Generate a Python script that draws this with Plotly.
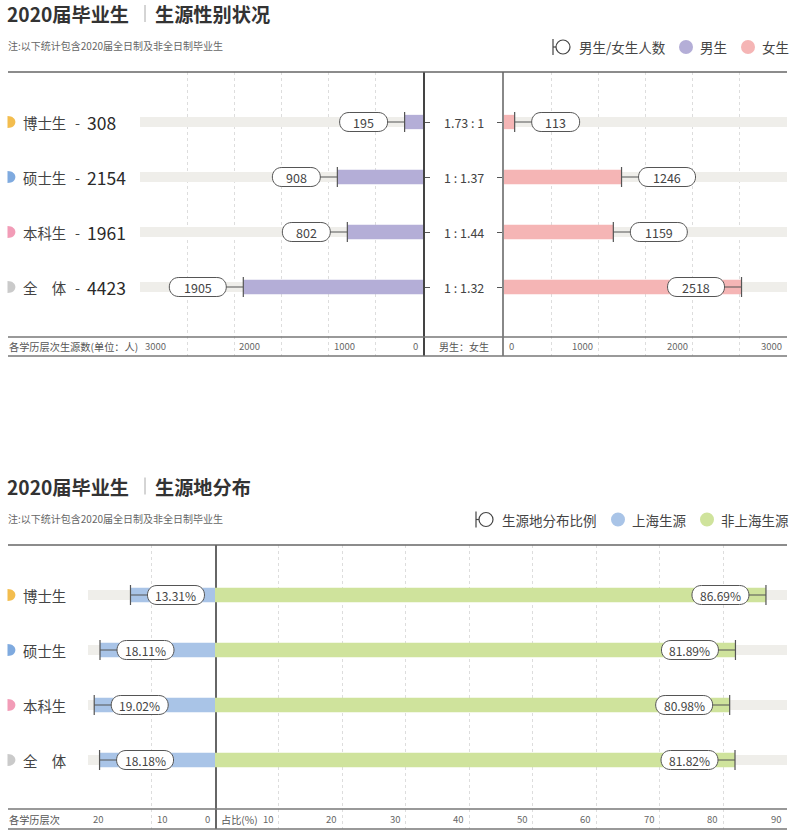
import plotly.graph_objects as go

FIG_W, FIG_H = 794, 831
FONT = "Noto Sans CJK SC"

# ---------------- data ----------------
levels = ["博士生", "硕士生", "本科生", "全　体"]
level_colors = ["#F3BD4E", "#7FAADF", "#F29CB7", "#CACACA"]
male_counts = [195, 908, 802, 1905]
female_counts = [113, 1246, 1159, 2518]
gender_ratio_labels = ["1.73 : 1", "1 : 1.37", "1 : 1.44", "1 : 1.32"]
shanghai_pct = [13.31, 18.11, 19.02, 18.18]
non_shanghai_pct = [86.69, 81.89, 80.98, 81.82]
count_ticks = [0, 1000, 2000, 3000]
pct_left_ticks = [0, 10, 20]
pct_right_ticks = [10, 20, 30, 40, 50, 60, 70, 80, 90]
COUNT_MAX = 3000
PCT_LEFT_MAX = 20
PCT_RIGHT_MAX = 90
totals = [m + f for m, f in zip(male_counts, female_counts)]

# ---------------- style ----------------
MALE_C = "#B4AED7"
FEMALE_C = "#F5B5B5"
SH_C = "#A9C4E7"
NSH_C = "#CFE39C"
TRACK_C = "#EFEEEA"
LINE_C = "#555555"
GRID_C = "#DDDDDD"


def px(x):
    return x / FIG_W


def py(y):
    return 1 - y / FIG_H


STEP = 55
TOP = dict(top=72, row=337, bottom=356, first=122, off=0)
BOT = dict(top=545, row=809, bottom=829, first=595, off=472.5)


def yrange(sec):
    last = sec["first"] + 3 * STEP
    return [3 + (sec["bottom"] - last) / STEP, -(sec["first"] - sec["top"]) / STEP]


fig = go.Figure()

# ---- bars ----
def add_bars(values, track_max, color, xa, ya):
    fig.add_trace(go.Bar(y=levels, x=[track_max] * len(levels), orientation="h",
                         marker=dict(color=TRACK_C, line=dict(width=0)), width=0.18,
                         xaxis=xa, yaxis=ya, hoverinfo="skip"))
    fig.add_trace(go.Bar(y=levels, x=values, orientation="h",
                         marker=dict(color=color, line=dict(width=0)), width=0.26,
                         xaxis=xa, yaxis=ya, hoverinfo="skip"))


add_bars(male_counts, COUNT_MAX, MALE_C, "x", "y")
add_bars(female_counts, COUNT_MAX, FEMALE_C, "x2", "y3")
add_bars(shanghai_pct, PCT_LEFT_MAX, SH_C, "x3", "y2")
add_bars(non_shanghai_pct, PCT_RIGHT_MAX, NSH_C, "x4", "y4")

shapes = []
annotations = []


def value_labels(values, texts, xref, yref, outward, panel_px, axis_max, fsize):
    gap = 17
    r = 9.5
    k = 4.0 / 3.0 * r
    for v, cat, t in zip(values, levels, texts):
        ndig = sum(ch.isdigit() for ch in t)
        w = 21 + 9 * ndig
        bar_px = v / axis_max * panel_px
        d = outward if bar_px + gap + w <= panel_px else -outward
        shapes.append(dict(type="path", xref=xref, yref=yref, xsizemode="pixel", ysizemode="pixel",
                           xanchor=v, yanchor=cat,
                           path=f"M0,-10 L0,10 M0,0 L{d * gap},0",
                           line=dict(color=LINE_C, width=1.2), layer="above"))
        if d > 0:
            x0, x1 = gap, gap + w
        else:
            x0, x1 = -gap - w, -gap
        path = (f"M{x0 + r},{-r} L{x1 - r},{-r} C{x1 - r + k},{-r} {x1 - r + k},{r} {x1 - r},{r} "
                f"L{x0 + r},{r} C{x0 + r - k},{r} {x0 + r - k},{-r} {x0 + r},{-r} Z")
        shapes.append(dict(type="path", xref=xref, yref=yref, xsizemode="pixel", ysizemode="pixel",
                           xanchor=v, yanchor=cat, path=path, fillcolor="white",
                           line=dict(color=LINE_C, width=1), layer="above"))
        annotations.append(dict(x=v, y=cat, xref=xref, yref=yref, xshift=d * (gap + w / 2),
                                text=t, showarrow=False, xanchor="center", yanchor="middle",
                                font=dict(size=fsize, color="#444", family=FONT)))


value_labels(male_counts, [str(v) for v in male_counts], "x", "y", -1, 423 - 140, COUNT_MAX, 12.5)
value_labels(female_counts, [str(v) for v in female_counts], "x2", "y3", 1, 787 - 504, COUNT_MAX, 12.5)
value_labels(shanghai_pct, [f"{v:.2f}%" for v in shanghai_pct], "x3", "y2", -1, 215 - 88, PCT_LEFT_MAX, 12)
value_labels(non_shanghai_pct, [f"{v:.2f}%" for v in non_shanghai_pct], "x4", "y4", 1, 787 - 215, PCT_RIGHT_MAX, 12)

# ratio texts
for cat, t in zip(levels, gender_ratio_labels):
    annotations.append(dict(x=px(463.5), y=cat, xref="paper", yref="y", text=t, showarrow=False,
                            xanchor="center", yanchor="middle",
                            font=dict(size=12.5, color="#444", family=FONT)))

# category labels
def cat_labels(yref, with_totals):
    for i, cat in enumerate(levels):
        shapes.append(dict(type="path", xref="paper", yref=yref, xsizemode="pixel", ysizemode="pixel",
                           xanchor=px(7.5), yanchor=cat, path="M0,-6 C10.5,-6 10.5,6 0,6 Z",
                           fillcolor=level_colors[i], line=dict(width=0), layer="above"))
        annotations.append(dict(x=px(21), y=cat, xref="paper", yref=yref, text=cat, showarrow=False,
                                xanchor="left", yanchor="middle",
                                font=dict(size=14.4, color="#444", family=FONT)))
        if with_totals:
            annotations.append(dict(x=px(72.5), y=cat, xref="paper", yref=yref, text="-", showarrow=False,
                                    xanchor="left", yanchor="middle",
                                    font=dict(size=14.4, color="#444", family=FONT)))
            annotations.append(dict(x=px(85), y=cat, xref="paper", yref=yref, text=str(totals[i]),
                                    showarrow=False, xanchor="left", yanchor="middle",
                                    font=dict(size=17.5, color="#2a2a2a", family=FONT)))


cat_labels("y", True)
cat_labels("y2", False)

# tick labels
def tick_labels(ticks, xref, row_y, left_panel, hide_zero=False):
    for t in ticks:
        if t == 0 and hide_zero:
            continue
        if left_panel:
            anchor, shift = ("right", -3) if t == 0 else ("left", 3)
        else:
            anchor, shift = ("left", 3) if t == 0 else ("right", -3)
        annotations.append(dict(x=t, y=py(row_y), xref=xref, yref="paper", text=str(t), showarrow=False,
                                xanchor=anchor, yanchor="middle", xshift=shift,
                                font=dict(size=9.5, color="#666", family=FONT)))


tick_labels(count_ticks, "x", 346.5, True)
tick_labels(count_ticks, "x2", 346.5, False)
tick_labels(pct_left_ticks, "x3", 819, True)
tick_labels(pct_right_ticks, "x4", 819, False)


def txt(x, y, text, size, color="#444", anchor="left", bold=False, pad=1):
    annotations.append(dict(x=px(x), y=py(y), xref="paper", yref="paper", text=text, showarrow=False,
                            xanchor=anchor, yanchor="middle", borderpad=pad,
                            font=dict(size=size, color=color, family=FONT, weight=700 if bold else 400)))


txt(7, 346.5, "各学历层次生源数(单位：人)", 10.2, "#555")
txt(463.5, 346.5, "男生：女生", 10, "#555", "center")
txt(7, 819, "各学历层次", 10.2, "#555")
txt(219, 819, "占比(%)", 10.2, "#555")


def hline(y, x0=8, x1=787, color="#777", width=1.5):
    shapes.append(dict(type="line", xref="paper", yref="paper", x0=px(x0), x1=px(x1), y0=py(y), y1=py(y),
                       line=dict(color=color, width=width), layer="above"))


# section headers
def header(sec, title2, legend_items, icon_text, icon_x):
    o = sec["off"]
    txt(6, 14.5 + o, "2020届毕业生", 19.2, "#333", bold=True, pad=0)
    shapes.append(dict(type="line", xref="paper", yref="paper", x0=px(145), x1=px(145),
                       y0=py(5 + o), y1=py(22 + o), line=dict(color="#AAAAAA", width=1)))
    txt(154, 14.5 + o, title2, 19.2, "#333", bold=True, pad=0)
    txt(6, 45.5 + o, "注:以下统计包含2020届全日制及非全日制毕业生", 10, "#666")
    ly = 47 + o
    # icon
    shapes.append(dict(type="line", xref="paper", yref="paper", x0=px(icon_x), x1=px(icon_x),
                       y0=py(ly - 8), y1=py(ly + 8), line=dict(color="#444", width=1.2)))
    shapes.append(dict(type="line", xref="paper", yref="paper", x0=px(icon_x), x1=px(icon_x + 3),
                       y0=py(ly), y1=py(ly), line=dict(color="#444", width=1.2)))
    shapes.append(dict(type="circle", xref="paper", yref="paper", x0=px(icon_x + 3), x1=px(icon_x + 17),
                       y0=py(ly + 7), y1=py(ly - 7), line=dict(color="#444", width=1.2)))
    txt(icon_x + 23.5, ly, icon_text, 13.5, "#444")
    for cx, color, label in legend_items:
        shapes.append(dict(type="circle", xref="paper", yref="paper", x0=px(cx - 7), x1=px(cx + 7),
                           y0=py(ly + 7), y1=py(ly - 7), fillcolor=color, line=dict(width=0)))
        txt(cx + 11.5, ly, label, 13.5, "#444")
    hline(sec["top"], color="#666")
    hline(sec["row"])
    hline(sec["bottom"])


header(TOP, "生源性别状况", [(686, MALE_C, "男生"), (748, FEMALE_C, "女生")], "男生/女生人数", 553)
header(BOT, "生源地分布", [(618, SH_C, "上海生源"), (707, NSH_C, "非上海生源")], "生源地分布比例", 476)

# ---- axes ----
def xax(dom, rng, anchor, dtick):
    return dict(domain=[px(dom[0]), px(dom[1])], range=rng, anchor=anchor, showgrid=True,
                gridcolor=GRID_C, griddash="3px,3px", gridwidth=1, dtick=dtick, tick0=0,
                showticklabels=False, zeroline=False, showline=False, ticks="", fixedrange=True)


def yax(sec, anchor, side, showline, linecolor, ticks):
    return dict(domain=[py(sec["bottom"]), py(sec["top"])], range=yrange(sec), anchor=anchor, side=side,
                type="category", categoryorder="array", categoryarray=levels,
                showline=showline, linecolor=linecolor, linewidth=1.5, ticks=ticks, ticklen=5,
                tickcolor=LINE_C, tickwidth=1, showticklabels=False, showgrid=False, zeroline=False,
                fixedrange=True)


fig.update_layout(
    width=FIG_W, height=FIG_H, margin=dict(l=0, r=0, t=0, b=0),
    paper_bgcolor="white", plot_bgcolor="white", barmode="overlay", showlegend=False,
    font=dict(family=FONT),
    xaxis=xax((140, 423), [COUNT_MAX, 0], "y", 500),
    xaxis2=xax((504, 787), [0, COUNT_MAX], "y3", 500),
    xaxis3=xax((88, 215), [PCT_LEFT_MAX, 0], "y2", 10),
    xaxis4=xax((215, 787), [0, PCT_RIGHT_MAX], "y4", 10),
    yaxis=yax(TOP, "x", "right", True, "#444", "outside"),
    yaxis3=yax(TOP, "x2", "left", True, "#888", "outside"),
    yaxis2=yax(BOT, "x3", "right", True, "#666", ""),
    yaxis4=yax(BOT, "x4", "left", False, "#666", ""),
    shapes=shapes,
    annotations=annotations,
)

fig.write_html("out.html")
